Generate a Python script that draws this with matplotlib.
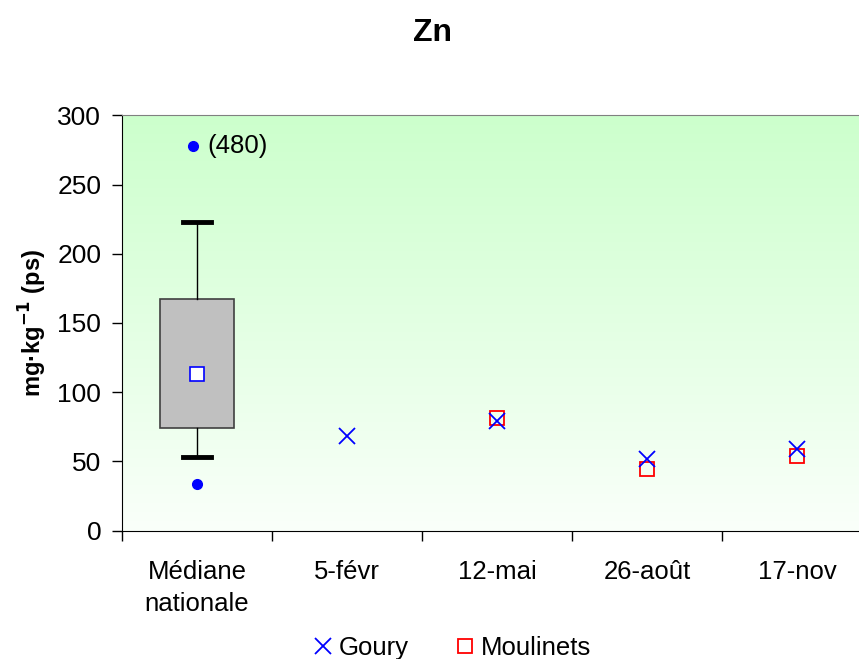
import numpy as np
import matplotlib
matplotlib.use("Agg")
import matplotlib.pyplot as plt
from matplotlib.lines import Line2D

plt.rcParams['font.family'] = ['Liberation Sans', 'DejaVu Sans']

# ---- data ----
categories = ["Médiane\nnationale", "5-févr", "12-mai", "26-août", "17-nov"]
dates_idx = [1, 2, 3, 4]
goury = [68.6, 79.5, 51.5, 59.0]
moulinets = [np.nan, 81.6, 44.3, 54.2]
# national reference distribution
box_q1, box_q3 = 74.4, 167.3
whisk_lo, whisk_hi = 53.2, 223.1
box_mean = 113.1
outlier_low = 33.9
outlier_high_shown = 278.0
outlier_high_label = "(480)"

fig = plt.figure(figsize=(8.59, 6.59), dpi=100)
ax = fig.add_axes([122/859, 1-530.7/659, 1-122/859, (530.7-115.3)/659])

ax.set_xlim(-0.5, 4.413)
ax.set_ylim(0, 300)

# gradient background
grad = np.linspace(0, 1, 256).reshape(-1, 1)
top = np.array([204, 255, 204]) / 255
bot = np.array([250, 255, 250]) / 255
img = (1 - grad)[..., None] * top + grad[..., None] * bot  # row 0 = top
ax.imshow(img, extent=[-0.5, 4.413, 0, 300], aspect='auto', origin='upper', zorder=0)

# box plot
stats = [dict(q1=box_q1, q3=box_q3, whislo=whisk_lo, whishi=whisk_hi,
              med=box_mean, mean=box_mean, fliers=[])]
ax.bxp(stats, positions=[0], widths=0.49, patch_artist=True, showmeans=True,
       showfliers=False,
       boxprops=dict(facecolor='#c0c0c0', edgecolor='#404040', linewidth=1.2),
       medianprops=dict(linewidth=0),
       whiskerprops=dict(color='black', linewidth=1),
       capprops=dict(color='black', linewidth=3.5),
       capwidths=0.19,
       meanprops=dict(marker='s', markerfacecolor='white', markeredgecolor='blue',
                      markersize=10.5, markeredgewidth=1.2),
       manage_ticks=False, zorder=3)
ax.plot([-0.025, 0], [outlier_high_shown, outlier_low], 'o', color='blue',
        markersize=7, linestyle='none', zorder=4)
ax.annotate(outlier_high_label, (-0.025, outlier_high_shown), xytext=(10, 0),
            textcoords='offset points', va='center', ha='left', fontsize=18.5)

# series
ax.plot(dates_idx, goury, linestyle='none', marker='x', color='blue',
        markersize=11, markeredgewidth=1.3, zorder=5)
ax.plot(dates_idx, moulinets, linestyle='none', marker='s', markerfacecolor='none',
        markeredgecolor='red', markersize=10.5, markeredgewidth=1.3, zorder=4)

# axes styling
ax.spines['right'].set_visible(False)
ax.spines['top'].set_color('#808080')
ax.spines['left'].set_color('black')
ax.spines['bottom'].set_color('black')
ax.set_yticks(np.arange(0, 301, 50))
ax.tick_params(axis='y', direction='out', length=7, width=1, labelsize=19, pad=8)
ax.set_xticks(np.arange(-0.5, 4.0, 1.0))
ax.set_xticks(np.arange(0, 5), minor=True)
ax.set_xticklabels([])
ax.set_xticklabels(categories, minor=True, fontsize=18.5, linespacing=1.45)
ax.tick_params(axis='x', which='major', direction='out', length=7, width=1)
ax.tick_params(axis='x', which='minor', length=0, pad=21)

ax.set_ylabel("mg·kg$^{\\mathbf{-1}}$ (ps)", fontsize=17, fontweight='bold', labelpad=6)

fig.text(433/859, 1-33/659, "Zn", ha='center', va='center', fontsize=23, fontweight='bold')

handles = [Line2D([], [], linestyle='none', marker='x', color='blue', markersize=11, markeredgewidth=1.3),
           Line2D([], [], linestyle='none', marker='s', markerfacecolor='none',
                  markeredgecolor='red', markersize=10.5, markeredgewidth=1.3)]
fig.legend(handles, ["Goury", "Moulinets"], loc='center', ncol=2,
           bbox_to_anchor=(452/859, 1-648/659), frameon=False, fontsize=18.5,
           handlelength=0.8, handletextpad=0.2, columnspacing=1.8)

fig.savefig("out.png", dpi=100)
